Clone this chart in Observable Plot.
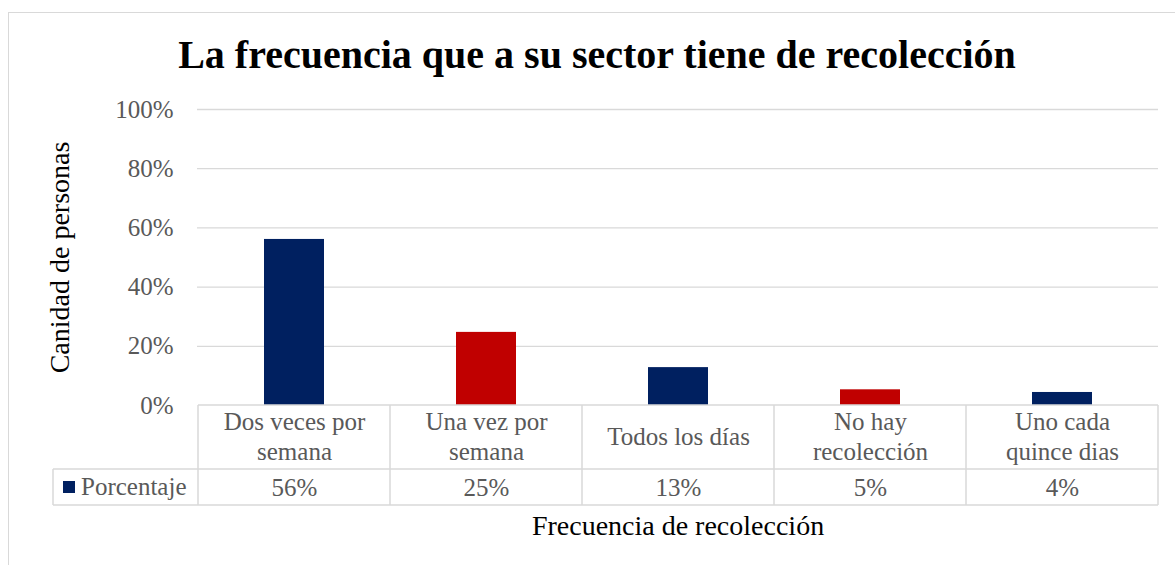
<!DOCTYPE html>
<html><head><meta charset="utf-8">
<script src="https://cdn.jsdelivr.net/npm/d3@7"></script>
<script src="https://cdn.jsdelivr.net/npm/@observablehq/plot@0.6"></script>
<style>
body{margin:0;background:#fff;}
#wrap{position:relative;width:1175px;height:565px;overflow:hidden;font-family:"Liberation Serif",serif;}
#frame{position:absolute;left:8px;top:12px;width:1190px;height:600px;border:1.5px solid #d9d9d9;box-sizing:border-box;}
#title{position:absolute;left:8px;width:1178px;top:35px;text-align:center;font-size:40px;line-height:40px;font-weight:bold;color:#000;white-space:nowrap;}
#chart{position:absolute;left:0;top:0;}
#chart svg, #chart svg text{font-family:"Liberation Serif",serif !important;}
</style></head><body>
<div id="wrap"><div id="frame"></div><div id="title"></div><div id="chart"></div></div>
<script>
const titleText = "La frecuencia que a su sector tiene de recolección";
const yTitle = "Canidad de personas";
const xTitle = "Frecuencia de recolección";
const seriesName = "Porcentaje";
const categories = ["Dos veces por semana", "Una vez por semana", "Todos los días", "No hay recolección", "Uno cada quince dias"];
const categoryLines = [["Dos veces por", "semana"], ["Una vez por", "semana"], ["Todos los días"], ["No hay", "recolección"], ["Uno cada", "quince dias"]];
const values = [0.561, 0.247, 0.128, 0.053, 0.044];
const barColors = ["#002060", "#C00000", "#002060", "#C00000", "#002060"];
const yTicks = [0, 0.2, 0.4, 0.6, 0.8, 1];

const pct = d => `${Math.round(d * 100)}%`;
const data = categories.map((c, i) => ({cat: c, label: categoryLines[i].join("\n"), value: values[i], color: barColors[i]}));

document.getElementById("title").textContent = titleText;

const W = 1175, H = 565;
const mTop = 109, mBottom = 160, mLeft = 197, mRight = 17;
const FF = "Liberation Serif";

const plot = Plot.plot({
  width: W, height: H,
  marginTop: mTop, marginBottom: mBottom, marginLeft: mLeft, marginRight: mRight,
  style: {background: "transparent", color: "#595959", overflow: "visible"},
  x: {domain: categories, paddingInner: 0.69, paddingOuter: 0.345, axis: null},
  y: {domain: [0, 1], label: null},
  color: {type: "identity"},
  marks: [
    Plot.ruleY(yTicks.filter(d => d > 0), {stroke: "#d9d9d9", strokeWidth: 1.3}),
    Plot.barY(data, {x: "cat", y: "value", fill: "color"}),
    Plot.axisY({ticks: yTicks, tickFormat: pct, tickSize: 0, tickPadding: 24, fontSize: 25, label: null, fontFamily: FF}),
    Plot.text([yTitle], {frameAnchor: "left", dx: -137, rotate: -90, textAnchor: "middle", lineAnchor: "middle", fontSize: 28, fill: "#000", fontFamily: FF, text: d => d}),
    Plot.text([xTitle], {frameAnchor: "bottom", dy: 121, lineAnchor: "middle", fontSize: 28, fill: "#000", fontFamily: FF, text: d => d}),
    Plot.text(data, {x: "cat", text: "label", frameAnchor: "bottom", dy: 30, lineAnchor: "middle", fontSize: 25, lineHeight: 1.2, fill: "#595959", fontFamily: FF}),
    Plot.text(data, {x: "cat", text: d => pct(d.value), frameAnchor: "bottom", dy: 82, lineAnchor: "middle", fontSize: 25, fill: "#595959", fontFamily: FF})
  ]
});
document.getElementById("chart").appendChild(plot);

// data table grid drawn from the plot's scales
const xs = plot.scale("x"), ys = plot.scale("y");
const y0 = ys.apply(0);
const r1 = y0 + 64, r2 = y0 + 100;
const tableLeft = 53;
const edges = categories.map(c => xs.apply(c) + xs.bandwidth / 2 - xs.step / 2);
edges.push(edges[edges.length - 1] + xs.step);
const right = edges[edges.length - 1];
const svg = d3.select(plot);
const g = svg.append("g").attr("stroke", "#d9d9d9").attr("stroke-width", 1.5).attr("fill", "none");
const hLines = [[edges[0], y0], [tableLeft, r1], [tableLeft, r2]];
hLines.forEach(([x1, y]) => g.append("line").attr("x1", x1).attr("x2", right).attr("y1", y).attr("y2", y));
edges.forEach(x => g.append("line").attr("x1", x).attr("x2", x).attr("y1", y0).attr("y2", r2));
g.append("line").attr("x1", tableLeft).attr("x2", tableLeft).attr("y1", r1).attr("y2", r2);
const ym = (r1 + r2) / 2;
svg.append("rect").attr("x", 63).attr("y", ym - 6).attr("width", 12).attr("height", 12).attr("fill", barColors[0]);
svg.append("text").attr("x", 81).attr("y", ym).attr("dy", "0.32em").attr("text-anchor", "start")
  .attr("font-size", 25).attr("font-family", FF).attr("fill", "#595959").text(seriesName);
</script>
</body></html>
